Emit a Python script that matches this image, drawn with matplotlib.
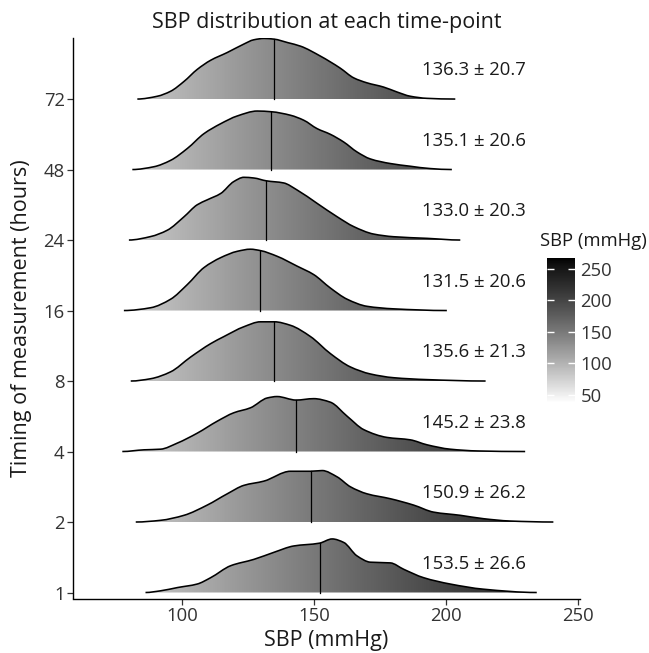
import numpy as np
import matplotlib
matplotlib.use("Agg")
import matplotlib.pyplot as plt
from matplotlib.colors import ListedColormap, Normalize
from matplotlib.path import Path
from matplotlib.patches import PathPatch
from matplotlib.cm import ScalarMappable

plt.rcParams['font.family'] = ['Open Sans', 'DejaVu Sans']

# ---------------- data ----------------
timepoints = ['1', '2', '4', '8', '16', '24', '48', '72']
labels = ['153.5 ± 26.6', '150.9 ± 26.2', '145.2 ± 23.8', '135.6 ± 21.3',
          '131.5 ± 20.6', '133.0 ± 20.3', '135.1 ± 20.6', '136.3 ± 20.7']
medians = [152.0, 148.6, 143.1, 134.9, 129.6, 131.8, 133.7, 134.7]

sbp_1 = [86.0, 91.7, 98.1, 105.6, 110.7, 118.3, 127.1, 134.7, 142.2, 152.0, 156.8,
         161.2, 166.2, 171.3, 178.9, 183.9, 191.5, 201.6, 214.2, 234.4]
dens_1 = [0.0, 0.024, 0.07, 0.12, 0.21, 0.38, 0.47, 0.57, 0.66, 0.70, 0.76,
          0.71, 0.52, 0.43, 0.42, 0.33, 0.21, 0.12, 0.047, 0.0]

sbp_2 = [82.3, 91.7, 100.6, 109.4, 117.0, 123.3, 130.9, 141.0, 148.6, 153.0, 158.7,
         163.7, 170.0, 178.9, 187.7, 195.3, 205.4, 214.2, 224.3, 240.7]
dens_2 = [0.0, 0.024, 0.095, 0.24, 0.40, 0.52, 0.58, 0.72, 0.72, 0.73, 0.64,
          0.50, 0.40, 0.33, 0.24, 0.14, 0.095, 0.047, 0.014, 0.0]

sbp_4 = [77.2, 85.4, 91.7, 98.1, 105.6, 113.2, 119.5, 125.8, 132.2, 135.9, 143.1,
         149.8, 156.1, 162.5, 168.8, 177.6, 186.4, 192.8, 201.6, 212.0, 230.0]
dens_4 = [0.0, 0.024, 0.033, 0.12, 0.26, 0.43, 0.55, 0.62, 0.76, 0.78, 0.73,
          0.75, 0.70, 0.50, 0.31, 0.20, 0.166, 0.095, 0.033, 0.008, 0.0]

sbp_8 = [80.4, 88.0, 95.5, 103.1, 110.7, 115.7, 123.3, 129.6, 134.9, 141.0, 148.6,
         156.1, 163.7, 171.3, 180.1, 192.8, 215.0]
dens_8 = [0.0, 0.033, 0.13, 0.34, 0.53, 0.63, 0.77, 0.84, 0.84, 0.79, 0.63,
          0.39, 0.20, 0.10, 0.047, 0.02, 0.0]

sbp_16 = [77.8, 88.0, 95.5, 101.9, 108.2, 114.5, 120.8, 125.8, 129.6, 135.9, 143.5,
          149.8, 156.1, 162.5, 170.0, 180.1, 200.3]
dens_16 = [0.0, 0.04, 0.16, 0.37, 0.61, 0.75, 0.84, 0.87, 0.85, 0.77, 0.63,
           0.51, 0.32, 0.16, 0.06, 0.024, 0.0]

sbp_24 = [79.7, 88.0, 94.3, 100.6, 105.6, 109.4, 114.5, 119.5, 123.3, 127.1, 131.8,
          138.4, 143.5, 151.1, 158.7, 165.0, 172.5, 180.1, 192.8, 205.4]
dens_24 = [0.0, 0.05, 0.14, 0.33, 0.50, 0.57, 0.66, 0.83, 0.89, 0.88, 0.84,
           0.81, 0.71, 0.52, 0.33, 0.19, 0.085, 0.047, 0.024, 0.0]

sbp_48 = [81.0, 89.2, 95.5, 101.9, 108.2, 114.5, 120.8, 128.4, 133.7, 141.0, 146.0,
          151.1, 156.1, 161.2, 166.2, 171.3, 178.9, 186.4, 194.0, 202.2]
dens_48 = [0.0, 0.04, 0.13, 0.30, 0.51, 0.65, 0.76, 0.83, 0.82, 0.77, 0.70,
           0.58, 0.50, 0.39, 0.25, 0.15, 0.085, 0.047, 0.014, 0.0]

sbp_72 = [82.9, 90.5, 95.5, 100.6, 105.6, 110.7, 117.0, 123.3, 127.0, 131.0, 134.7,
          140.0, 144.8, 152.3, 159.8, 165.0, 170.0, 176.3, 181.4, 186.4, 192.8, 203.5]
dens_72 = [0.0, 0.04, 0.11, 0.25, 0.42, 0.55, 0.66, 0.78, 0.84, 0.86, 0.85,
           0.80, 0.75, 0.61, 0.44, 0.30, 0.23, 0.17, 0.10, 0.04, 0.01, 0.0]

ridges_x = [sbp_1, sbp_2, sbp_4, sbp_8, sbp_16, sbp_24, sbp_48, sbp_72]
ridges_y = [dens_1, dens_2, dens_4, dens_8, dens_16, dens_24, dens_48, dens_72]

fill_limits = (37, 267)
cbar_ticks = [50, 100, 150, 200, 250]
x_ticks = [100, 150, 200, 250]

# ---------------- colour map: white -> black, linear in Lab lightness ----------------
def lab_gray(L):
    fy = (L + 16.0) / 116.0
    Y = np.where(fy ** 3 > 0.008856, fy ** 3, (fy - 16.0 / 116.0) / 7.787)
    v = np.where(Y <= 0.0031308, 12.92 * Y, 1.055 * Y ** (1 / 2.4) - 0.055)
    return np.clip(v, 0, 1)

Ls = np.linspace(100, 0, 256)
g = lab_gray(Ls)
cmap = ListedColormap(np.column_stack([g, g, g]))
norm = Normalize(*fill_limits)


def hermite_path(xs, ys):
    """Smooth Bezier path through the points (monotone cubic Hermite tangents)."""
    n = len(xs)
    h = np.diff(xs)
    d = np.diff(ys) / h
    m = np.zeros(n)
    for k in range(1, n - 1):
        if d[k - 1] * d[k] > 0:
            w1 = 2 * h[k] + h[k - 1]
            w2 = h[k] + 2 * h[k - 1]
            m[k] = (w1 + w2) / (w1 / d[k - 1] + w2 / d[k])
    verts = [(xs[0], ys[0])]
    codes = [Path.MOVETO]
    for k in range(n - 1):
        dx = h[k] / 3.0
        verts += [(xs[k] + dx, ys[k] + m[k] * dx),
                  (xs[k + 1] - dx, ys[k + 1] - m[k + 1] * dx),
                  (xs[k + 1], ys[k + 1])]
        codes += [Path.CURVE4] * 3
    return verts, codes


# ---------------- figure ----------------
W, H = 649, 653
fig = plt.figure(figsize=(W / 100, H / 100), dpi=100)
ax_l, ax_r, ax_t, ax_b = 73, 580, 38, 598.5
ax = fig.add_axes([ax_l / W, 1 - ax_b / H, (ax_r - ax_l) / W, (ax_b - ax_t) / H])
ax.set_xlim(58.5, 250.8)
ax.set_ylim(-0.085, 7.866)

grad = np.linspace(fill_limits[0], fill_limits[1], 600).reshape(1, -1)

for i in range(len(timepoints) - 1, -1, -1):
    xs = np.array(ridges_x[i], dtype=float)
    ys = np.array(ridges_y[i], dtype=float) + i
    cv, cc = hermite_path(xs, ys)
    fv = cv + [(xs[-1], i), (xs[0], i), (xs[0], i)]
    fc = cc + [Path.LINETO, Path.LINETO, Path.CLOSEPOLY]
    patch = PathPatch(Path(fv, fc), facecolor='none', edgecolor='none')
    ax.add_patch(patch)
    im = ax.imshow(grad, cmap=cmap, norm=norm, aspect='auto',
                   extent=[fill_limits[0], fill_limits[1], i, i + 1], zorder=2)
    im.set_clip_path(patch)
    ax.add_patch(PathPatch(Path(cv, cc), facecolor='none', edgecolor='black',
                           lw=1.15, zorder=3, joinstyle='round'))
    m = medians[i]
    hm = np.interp(m, xs, ys)
    ax.plot([m, m], [i, hm], color='black', lw=0.9, zorder=3)
    ax.text(210.5, i + 0.41, labels[i], ha='center', va='center',
            fontsize=13.3, color='#1a1a1a', zorder=4)

ax.set_xlim(58.5, 250.8)
ax.set_ylim(-0.085, 7.866)
ax.set_yticks(range(len(timepoints)))
ax.set_yticklabels(timepoints)
ax.set_xticks(x_ticks)
for s in ['top', 'right']:
    ax.spines[s].set_visible(False)
for s in ['left', 'bottom']:
    ax.spines[s].set_linewidth(1.0)
    ax.spines[s].set_color('black')
ax.tick_params(axis='both', length=4, width=0.9, color='#333333',
               labelsize=13.3, labelcolor='#333333', pad=2)
ax.set_xlabel('SBP (mmHg)', fontsize=15.5, color='#1a1a1a', labelpad=4)
ax.set_ylabel('Timing of measurement (hours)', fontsize=15.5, color='#1a1a1a')
ax.yaxis.set_label_coords(-0.081, 0.5)
ax.set_title('SBP distribution at each time-point', fontsize=15.5, color='#1a1a1a', pad=7)

# ---------------- colour bar ----------------
cb_l, cb_r, cb_t, cb_b = 547, 575, 258, 403
cax = fig.add_axes([cb_l / W, 1 - cb_b / H, (cb_r - cb_l) / W, (cb_b - cb_t) / H])
sm = ScalarMappable(norm=norm, cmap=cmap)
cb = fig.colorbar(sm, cax=cax, ticks=cbar_ticks)
cb.outline.set_visible(False)
cax.yaxis.set_ticks_position('both')
cax.tick_params(axis='y', direction='in', length=5, width=1, color='white',
                labelsize=13.3, labelcolor='#333333', pad=4, labelright=True, labelleft=False)
fig.text(540 / W, 1 - 241 / H, 'SBP (mmHg)', fontsize=13.3, color='#1a1a1a',
         ha='left', va='center')

fig.savefig('out.png', dpi=100)
